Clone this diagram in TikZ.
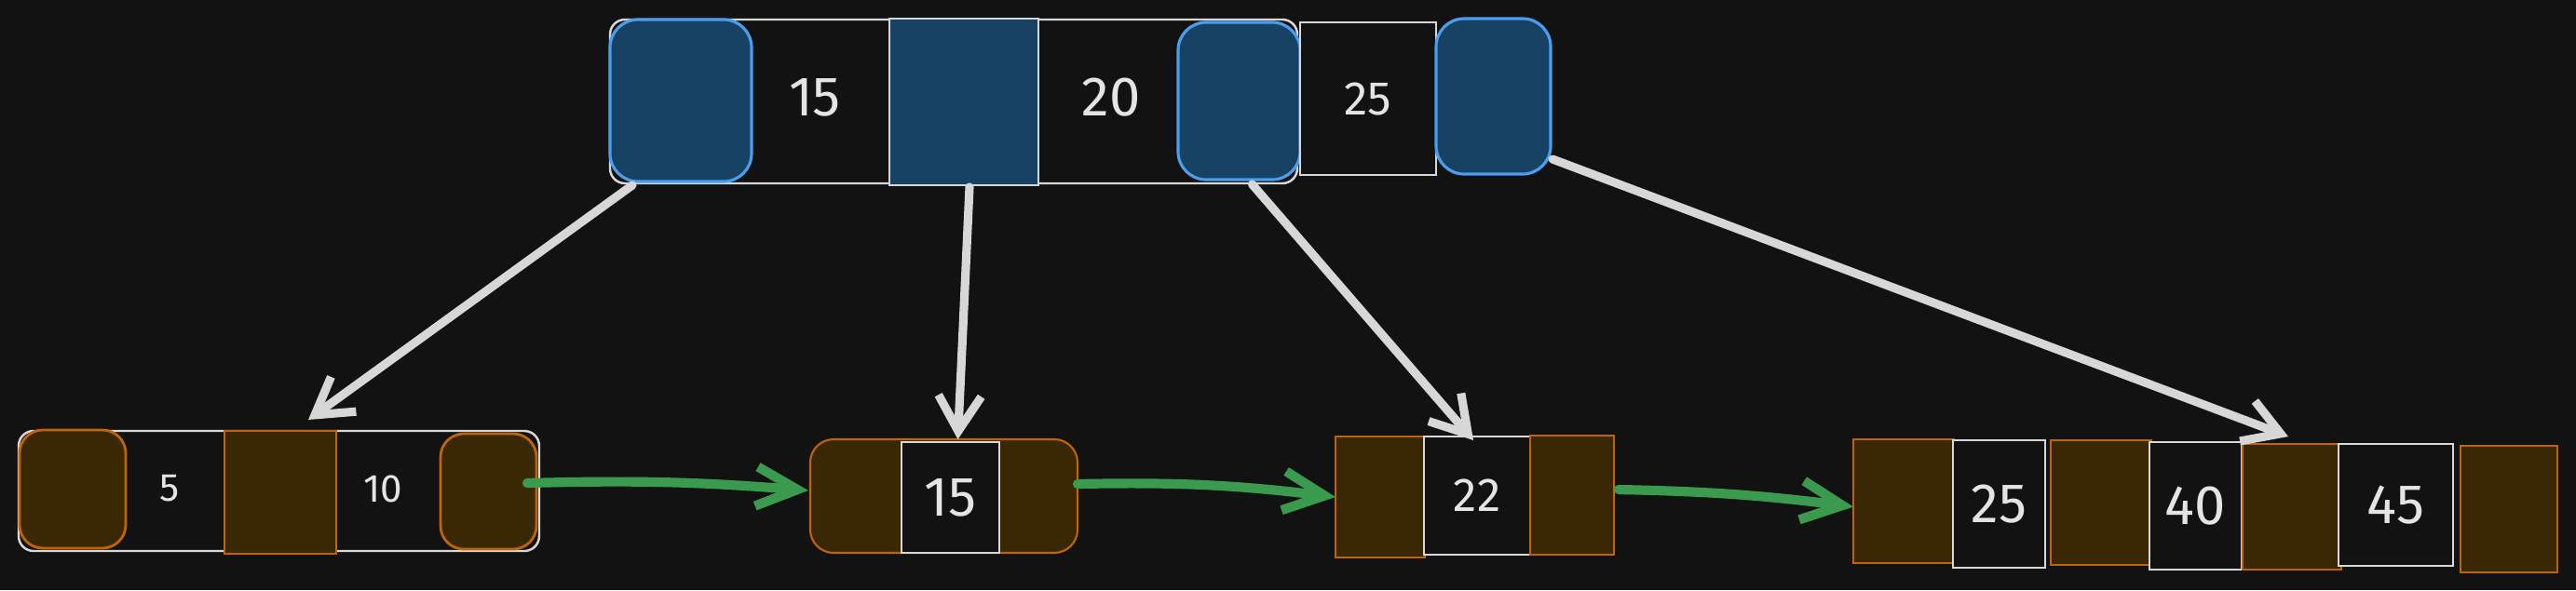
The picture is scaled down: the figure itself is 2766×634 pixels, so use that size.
\documentclass[tikz,border=0pt]{standalone}
\usepackage{fontspec}
\setmainfont{Fira Sans}
\usetikzlibrary{arrows.meta,calc}

\definecolor{canvas}{HTML}{121212}
\definecolor{bluefill}{RGB}{24,66,100}
\definecolor{bluedraw}{RGB}{74,158,237}
\definecolor{brownfill}{RGB}{58,40,5}
\definecolor{browndraw}{RGB}{190,100,10}
\definecolor{lineg}{RGB}{215,215,215}
\definecolor{ink}{RGB}{228,228,228}
\definecolor{leafgreen}{RGB}{58,154,78}

\begin{document}
\begin{tikzpicture}[
  x=0.1mm, y=-0.1mm,
  cell/.style={inner sep=0pt, outer sep=0pt, text=ink},
  frame/.style={cell, draw=lineg, line width=0.7pt, rounded corners=1.6mm},
  bluecell/.style={cell, draw=bluedraw, fill=bluefill, line width=0.9pt, rounded corners=3mm},
  bluesq/.style={cell, draw=lineg, fill=bluefill, line width=0.6pt},
  keycell/.style={cell, draw=lineg, fill=canvas, line width=0.6pt},
  browncell/.style={cell, draw=browndraw, fill=brownfill, line width=0.8pt, rounded corners=2.5mm},
  brownsq/.style={cell, draw=browndraw, fill=brownfill, line width=0.8pt},
  keytxt/.style={cell},
  big/.style={font=\fontsize{17}{20}\selectfont},
  mid/.style={font=\fontsize{14.5}{17}\selectfont},
  small/.style={font=\fontsize{12}{14}\selectfont},
  ptr/.style={-{Straight Barb[length=3.8mm,width=4.6mm]}, line width=2.6pt, lineg, line cap=round},
  link/.style={-{Straight Barb[length=4.4mm,width=4.2mm]}, line width=2.9pt, leafgreen, line cap=round}
]
\fill[canvas] (0,0) rectangle (2766,634);
\useasboundingbox (0,0) rectangle (2766,634);

% root
\node[frame, minimum width=73.8mm, minimum height=17.6mm] (root) at (1024,109) {};
\node[bluecell, minimum width=15.2mm, minimum height=17.4mm] (rb1) at (731,108) {};
\node[keytxt, big] (r15) at (875,105) {15};
\node[bluesq, minimum width=16mm, minimum height=17.9mm] (rb2) at (1035,109.5) {};
\node[keytxt, big] (r20) at (1193,105) {20};
\node[bluecell, minimum width=13.1mm, minimum height=16.9mm] (rb3) at (1330.5,108.5) {};
\node[keycell, mid, minimum width=14.6mm, minimum height=16.4mm] (r25) at (1469,106) {25};
\node[bluecell, minimum width=12.3mm, minimum height=16.7mm] (rb4) at (1603.5,103.5) {};

% leaf 1
\node[frame, minimum width=55.9mm, minimum height=12.9mm] (leafa) at (299.5,527.5) {};
\node[browncell, minimum width=11.4mm, minimum height=12.7mm] (lb1) at (78,525.5) {};
\node[keytxt, small] (l5) at (182,525) {5};
\node[brownsq, minimum width=12mm, minimum height=13.2mm] (lb2) at (301,529) {};
\node[keytxt, small] (l10) at (411,525) {10};
\node[browncell, minimum width=10.3mm, minimum height=12.4mm] (lb3) at (524.5,528) {};

% leaf 2
\node[browncell, draw=browndraw, line width=0.6pt, minimum width=28.7mm, minimum height=12.2mm] (leafb) at (1013.5,533) {};
\node[keycell, big, minimum width=10.5mm, minimum height=11.9mm] (m15) at (1020.5,534.5) {15};

% leaf 3
\node[brownsq, minimum width=9.6mm, minimum height=13mm] (ca1) at (1482,534) {};
\node[keycell, mid, minimum width=11.4mm, minimum height=12.7mm] (c22) at (1586,532.5) {22};
\node[brownsq, minimum width=9mm, minimum height=12.8mm] (ca2) at (1688,532) {};

% leaf 4
\node[brownsq, minimum width=10.8mm, minimum height=13.3mm] (da1) at (2044,538.5) {};
\node[keycell, big, minimum width=9.9mm, minimum height=13.7mm] (d25) at (2146.5,541.5) {25};
\node[brownsq, minimum width=10.8mm, minimum height=13.4mm] (da2) at (2256,540) {};
\node[keycell, big, minimum width=9.9mm, minimum height=13.7mm] (d40) at (2357.5,543.5) {40};
\node[brownsq, minimum width=10.6mm, minimum height=13.5mm] (da3) at (2461,544.5) {};
\node[keycell, big, minimum width=12.3mm, minimum height=13.1mm] (d45) at (2572.5,542.5) {45};
\node[brownsq, minimum width=10.4mm, minimum height=13.6mm] (da4) at (2694,547) {};

% child pointers
\draw[ptr] ($(rb1.south)+(-52,4)$) -- ($(lb2.north)+(30,-12)$);
\draw[ptr] ($(rb2.south)+(6,2)$) -- ($(m15.north)+(8,-3)$);
\draw[ptr] ($(rb3.south)+(14,5)$) -- ($(c22.north)+(-4,4)$);
\draw[ptr] ($(rb4.south east)+(2,-16)$) -- ($(da3.north)+(-4,-8)$);

% leaf links
\draw[link] ($(lb3.east)+(-10,-9)$) to[bend left=3] ($(leafb.west)+(-2,-6)$);
\draw[link] ($(leafb.east)+(0,-13)$) to[bend left=4] (ca1.west);
\draw[link] ($(ca2.east)+(5,-6)$) to[bend left=3] ($(da1.west)+(0,6)$);
\end{tikzpicture}
\end{document}
